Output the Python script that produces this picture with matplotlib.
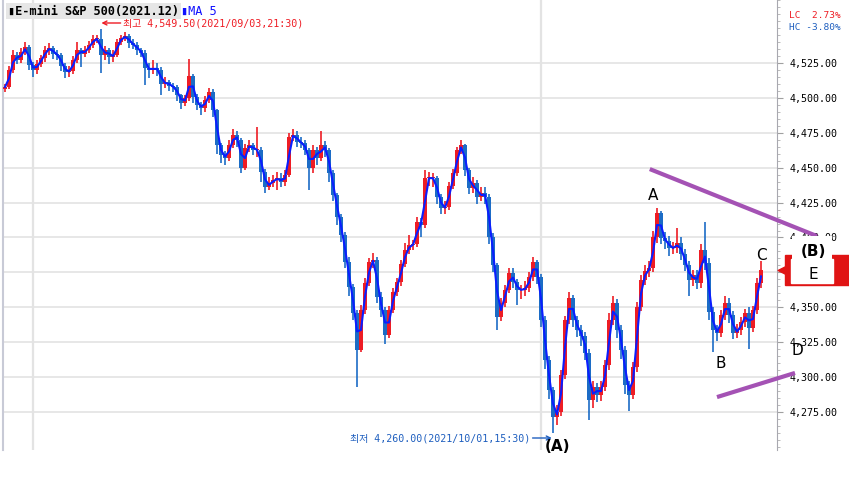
import matplotlib
matplotlib.use("Agg")
import matplotlib.pyplot as plt
import matplotlib.ticker as mticker
from matplotlib.transforms import blended_transform_factory
from matplotlib.patches import Rectangle
import numpy as np
import pandas as pd

# E-mini S&P 500 (2021.12) 30-min bars
closes = [4507.75, 4520.0, 4530.75, 4527.0, 4533.0, 4536.5, 4523.5, 4520.0, 4524.25, 4528.5,
          4534.25, 4535.75, 4531.5, 4530.75, 4523.0, 4518.5, 4519.25, 4527.25, 4534.25, 4531.5,
          4534.25, 4538.0, 4542.25, 4542.25, 4530.75, 4534.25, 4529.25, 4530.75, 4540.0, 4543.0,
          4544.25, 4539.25, 4538.0, 4534.25, 4532.25, 4521.5, 4520.0, 4521.5, 4520.0, 4510.0,
          4511.5, 4508.5, 4507.75, 4502.0, 4496.25, 4500.0, 4515.75, 4500.75, 4495.0, 4492.75,
          4498.5, 4504.25, 4491.25, 4466.25, 4459.0, 4457.0, 4466.25, 4473.5, 4469.75, 4449.75,
          4464.0, 4466.25, 4462.75, 4462.75, 4447.0, 4436.25, 4439.0, 4441.25, 4442.5, 4439.75,
          4444.75, 4472.0, 4473.5, 4468.5, 4467.75, 4462.75, 4449.75, 4462.75, 4457.0, 4466.25,
          4462.75, 4446.25, 4430.5, 4414.75, 4401.75, 4382.5, 4364.5, 4346.0, 4319.5, 4348.0,
          4367.5, 4382.5, 4384.0, 4357.5, 4348.0, 4330.25, 4348.0, 4361.0, 4368.0, 4381.0,
          4391.0, 4394.5, 4395.25, 4411.0, 4409.0, 4442.5, 4442.5, 4442.5, 4429.0, 4421.0,
          4421.75, 4437.0, 4446.25, 4462.75, 4466.25, 4448.25, 4435.5, 4439.0, 4429.0, 4432.0,
          4429.0, 4400.5, 4380.25, 4343.0, 4353.0, 4362.5, 4374.5, 4368.0, 4362.5, 4362.5,
          4363.75, 4371.75, 4382.5, 4371.75, 4341.0, 4312.25, 4290.75, 4271.5, 4275.0, 4301.5,
          4341.0, 4356.75, 4341.0, 4333.75, 4329.5, 4317.25, 4283.5, 4292.75, 4287.25, 4292.75,
          4308.75, 4341.0, 4353.0, 4333.75, 4319.5, 4294.25, 4287.25, 4307.25, 4350.25, 4369.5,
          4376.0, 4378.25, 4400.5, 4417.5, 4399.75, 4397.5, 4392.5, 4392.5, 4396.0, 4388.25,
          4380.25, 4369.5, 4373.25, 4367.5, 4391.0, 4381.75, 4346.75, 4333.75, 4331.5, 4344.5,
          4353.0, 4344.5, 4331.5, 4333.75, 4339.5, 4346.0, 4335.25, 4348.0, 4367.5, 4376.75]

highs = [4510, 4523, 4534, 4533, 4536, 4540, 4538, 4526, 4527, 4531,
         4537, 4539, 4537, 4534, 4532, 4525, 4523, 4530, 4540, 4536,
         4537, 4541, 4545, 4545, 4549.5, 4537, 4536, 4534, 4542, 4545,
         4547, 4546, 4542, 4540, 4536, 4534, 4525, 4527, 4525, 4522,
         4515, 4513, 4511, 4509, 4503, 4502, 4528, 4517, 4503, 4497,
         4501, 4507, 4506, 4492, 4468, 4462, 4470, 4478, 4476, 4471,
         4467, 4470, 4468, 4479, 4465, 4449, 4443, 4445, 4447, 4446,
         4448, 4475, 4478, 4476, 4472, 4470, 4464, 4466, 4465, 4476,
         4469, 4464, 4448, 4432, 4417, 4404, 4386, 4367, 4348, 4352,
         4371, 4385, 4389, 4386, 4361, 4350, 4351, 4364, 4371, 4384,
         4396, 4402, 4398, 4415, 4414, 4448, 4447, 4446, 4444, 4431,
         4426, 4440, 4449, 4465, 4470, 4467, 4450, 4443, 4441, 4436,
         4436, 4431, 4403, 4382, 4357, 4366, 4378, 4378, 4370, 4366,
         4369, 4375, 4386, 4384, 4374, 4344, 4315, 4293, 4280, 4305,
         4344, 4361, 4359, 4344, 4337, 4332, 4320, 4297, 4296, 4297,
         4312, 4346, 4358, 4356, 4337, 4322, 4297, 4311, 4354, 4373,
         4380, 4383, 4405, 4421, 4419, 4404, 4401, 4397, 4407, 4400,
         4392, 4383, 4377, 4377, 4395, 4411, 4385, 4350, 4337, 4348,
         4358, 4357, 4347, 4338, 4343, 4349, 4350, 4351, 4371, 4383]

lows = [4504, 4506, 4518, 4524, 4525, 4531, 4520, 4515, 4517, 4522,
        4526, 4531, 4528, 4527, 4519, 4514, 4515, 4517, 4525, 4522,
        4529, 4532, 4536, 4539, 4518, 4527, 4524, 4526, 4529, 4538,
        4541, 4536, 4535, 4531, 4529, 4509, 4514, 4517, 4516, 4502,
        4507, 4505, 4504, 4498, 4492, 4494, 4498, 4496, 4491, 4488,
        4490, 4496, 4486, 4460, 4453, 4452, 4455, 4464, 4465, 4446,
        4448, 4461, 4459, 4458, 4440, 4432, 4434, 4436, 4434, 4436,
        4437, 4443, 4469, 4465, 4464, 4459, 4434, 4446, 4452, 4455,
        4458, 4440, 4426, 4409, 4397, 4378, 4358, 4341, 4293, 4318,
        4345, 4365, 4378, 4353, 4343, 4324, 4328, 4346, 4358, 4365,
        4379, 4388, 4391, 4393, 4400, 4407, 4437, 4436, 4424, 4417,
        4417, 4420, 4435, 4444, 4460, 4444, 4431, 4432, 4424, 4426,
        4424, 4395, 4375, 4334, 4340, 4350, 4360, 4364, 4352, 4356,
        4358, 4361, 4369, 4367, 4336, 4306, 4284, 4260, 4266, 4272,
        4299, 4338, 4336, 4329, 4322, 4312, 4269, 4278, 4282, 4283,
        4290, 4305, 4337, 4328, 4313, 4288, 4276, 4284, 4304, 4347,
        4366, 4372, 4375, 4396, 4395, 4392, 4387, 4388, 4389, 4384,
        4376, 4358, 4365, 4363, 4364, 4377, 4341, 4318, 4326, 4329,
        4341, 4339, 4327, 4328, 4330, 4336, 4320, 4332, 4345, 4364]

session_breaks = [7, 134]          # day separators (bar index)
y_ticks = [4275, 4300, 4325, 4350, 4375, 4400, 4425, 4450, 4475, 4500, 4525]
hi_val, lo_val = 4549.50, 4260.00

# hand drawn trend lines (bar index, price)
upper_line = ([161.2, 203.0], [4449.0, 4401.0])
lower_line = ([178.0, 197.5], [4285.7, 4303.0])

wave_labels = [("A", 162, 4430), ("B", 179, 4310), ("C", 189, 4387)]

df = pd.DataFrame({"close": closes, "high": highs, "low": lows})
df["open"] = df["close"].shift(1).fillna(4506.0)
ma = df["close"].rolling(2, min_periods=1).mean()
idx = np.arange(len(df))

W, H = 849, 494
fig = plt.figure(figsize=(W / 100, H / 100), dpi=100)
ax = fig.add_axes([3 / W, 44 / H, 774 / W, 450 / H])

up = df["close"] >= df["open"]
red = "#ee1c24"
blu = "#1c6cc6"
cols = np.where(up, red, blu)
ax.vlines(idx, df["low"], df["high"], colors=cols, lw=1.2, zorder=3)
body_lo = np.minimum(df["open"], df["close"])
body_h = np.abs(df["close"] - df["open"]).clip(lower=0.8)
ax.bar(idx, body_h, bottom=body_lo, width=0.8, color=cols, zorder=3, lw=0)
ax.plot(idx, ma, color="#0a1eff", lw=1.5, zorder=4)

# trend lines
ax.plot(upper_line[0], upper_line[1], color="#a452b4", lw=3, clip_on=False, zorder=5,
        solid_capstyle="butt")
ax.plot(lower_line[0], lower_line[1], color="#a452b4", lw=3, clip_on=False, zorder=5,
        solid_capstyle="butt")

ax.set_xlim(-0.5, 193)
ax.set_ylim(4247.8, 4570.1)
for v in y_ticks:
    ax.axhline(v, color="#e3e3e3", lw=1.2, zorder=0)
for b in session_breaks:
    ax.axvline(b, color="#e3e3e3", lw=1.6, zorder=0)

ax.set_xticks([])
ax.yaxis.tick_right()
ax.set_yticks(y_ticks)
ax.yaxis.set_major_formatter(mticker.FuncFormatter(lambda v, p: f"{v:,.2f}"))
ax.yaxis.set_minor_locator(mticker.MultipleLocator(5))
ax.tick_params(axis="y", which="major", length=4, color="#a0a0a0", pad=5,
               labelsize=7.2, labelfontfamily="DejaVu Sans Mono")
ax.tick_params(axis="y", which="minor", length=2.5, color="#b0b0b0")
for s in ["top", "bottom"]:
    ax.spines[s].set_visible(False)
ax.spines["right"].set_color("#a8a8b0")
ax.spines["left"].set_color("#c8cad6")
ax.spines["left"].set_linewidth(1.5)

kr = ["DejaVu Sans Mono", "Noto Sans CJK KR"]

# title bar
fig.text(8 / W, 1 - 11 / H, "▮E-mini S&P 500(2021.12)", fontsize=8.6, fontweight="bold",
         family="DejaVu Sans Mono", va="center", ha="left",
         bbox=dict(boxstyle="square,pad=0.15", fc="#e6e6e6", ec="none"))
fig.text(181 / W, 1 - 11 / H, "▮MA 5", fontsize=8.6, color="#1010ff",
         family="DejaVu Sans Mono", va="center", ha="left")

# high / low annotations
hi_i = int(np.argmax(df["high"]))
lo_i = int(np.argmin(df["low"]))
ax.annotate(f"최고 {hi_val:,.2f}(2021/09/03,21:30)", xy=(hi_i + 0.1, 1 - 23 / 450),
            xycoords=("data", "axes fraction"), xytext=(22, 0), textcoords="offset pixels",
            ha="left", va="center", fontsize=7.2, color="#ee1c24", family=kr,
            arrowprops=dict(arrowstyle="->", color="#ee1c24", lw=1, shrinkA=0, shrinkB=0))
ax.annotate(f"최저 {lo_val:,.2f}(2021/10/01,15:30)", xy=(lo_i - 0.3, 12 / 450),
            xycoords=("data", "axes fraction"), xytext=(-22, 0), textcoords="offset pixels",
            ha="right", va="center", fontsize=7.2, color="#1f5fbf", family=kr,
            arrowprops=dict(arrowstyle="->", color="#1f5fbf", lw=1, shrinkA=0, shrinkB=0))

# wave labels
lab = dict(fontsize=11, color="black", ha="center", va="center", family="DejaVu Sans")
for t, xi, yv in wave_labels:
    ax.text(xi, yv, t, **lab)
ax.text(lo_i + 1, 4250, "(A)", fontweight="bold", clip_on=False, **lab)
# white patch hiding the 4,400 label behind (B)
fig.patches.append(Rectangle((792 / W, 1 - 263 / H), 40 / W, 27 / H, transform=fig.transFigure,
                             fc="white", ec="none", zorder=5))
fig.text(813 / W, 1 - 251 / H, "(B)", fontweight="bold", zorder=6, **lab)
fig.text(797 / W, 1 - 350 / H, "D", zorder=6, **lab)

# LC / HC
fig.text(789 / W, 1 - 15 / H, "LC  2.73%", color="#ee1c24", fontsize=6.8,
         family="DejaVu Sans Mono", va="center")
fig.text(789 / W, 1 - 27 / H, "HC -3.80%", color="#1f5fbf", fontsize=6.8,
         family="DejaVu Sans Mono", va="center")

# last price tag
bt = blended_transform_factory(ax.transAxes, ax.transData)
last = closes[-1]
ax.add_patch(Rectangle((1.010, last - 10.5), 0.09, 21.0, transform=bt, color="#e01414",
                       clip_on=False, zorder=6))
ax.add_patch(Rectangle((1.018, last - 9.0), 0.054, 17.0, transform=bt, color="white",
                       clip_on=False, zorder=7))
ax.scatter([1.006], [last], marker="<", s=40, color="#e01414", transform=bt,
           clip_on=False, zorder=7)
ax.text(1.047, last - 3.5, "E", transform=bt, zorder=8, **lab)

fig.savefig("out.png", dpi=100, facecolor="white")
